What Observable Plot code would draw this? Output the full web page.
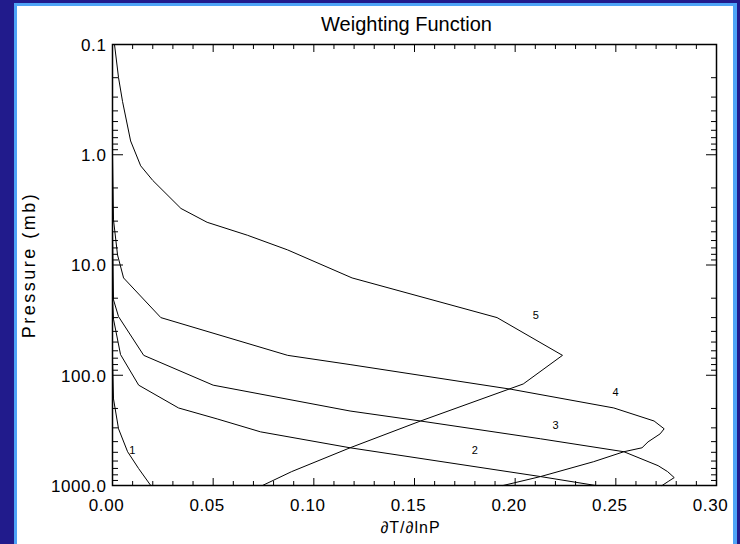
<!DOCTYPE html>
<html>
<head>
<meta charset="utf-8">
<script src="https://cdn.jsdelivr.net/npm/d3@7"></script>
<script src="https://cdn.jsdelivr.net/npm/@observablehq/plot@0.6"></script>
<style>
  html, body { margin: 0; padding: 0; }
  body { width: 740px; height: 544px; overflow: hidden; background: #211b8c; position: relative; }
  #border { position: absolute; left: 14px; top: 3px; width: 723px; height: 560px; background: #4ea4f7; }
  #panel { position: absolute; left: 17px; top: 6px; width: 716px; height: 538px; background: #ffffff; }
</style>
</head>
<body>
<div id="border"></div>
<div id="panel"></div>
<script>
// Weighting function curves (x = dT/dlnP, y = pressure in mb)
const w1V = [0, 0.0005, 0.003, 0.0075, 0.013, 0.019];
const w1P = [72, 164, 306, 494, 703, 1000];

const w2V = [0, 0.0005, 0.004, 0.013, 0.0328, 0.052, 0.0735, 0.118, 0.2126, 0.240];
const w2P = [20, 31, 65, 123, 198, 249, 326, 455, 830, 1000];

const w3V = [0, 0.0005, 0.003, 0.0155, 0.050, 0.118, 0.153, 0.2126, 0.254, 0.271, 0.2757, 0.279, 0.276, 0.273];
const w3P = [4.8, 20.7, 29.4, 66, 123, 211, 260, 377, 494, 661, 748, 848, 920, 1000];

const w4V = [0, 0.0005, 0.0025, 0.0055, 0.024, 0.087, 0.118, 0.198, 0.249, 0.269, 0.274, 0.272, 0.266, 0.263, 0.254, 0.239, 0.2126, 0.194];
const w4P = [1, 3.9, 8.1, 13.1, 30, 66, 80, 134, 198, 260, 306, 340, 402, 455, 494, 608, 830, 1000];

const w5V = [0.001, 0.003, 0.005, 0.009, 0.014, 0.020, 0.034, 0.047, 0.067, 0.087, 0.119, 0.191, 0.2235, 0.204, 0.153, 0.118, 0.089, 0.0745];
const w5P = [0.1, 0.2, 0.33, 0.75, 1.26, 1.71, 3.07, 4.1, 5.37, 7.3, 13.1, 30, 66, 120, 260, 455, 748, 1000];

// Curve labels
const labelText = ["1", "2", "3", "4", "5"];
const labelV = [0.0099, 0.180, 0.2201, 0.2499, 0.2102];
const labelP = [484, 484, 288, 142, 28.8];

// Ticks
const xTicks = [0, 0.05, 0.10, 0.15, 0.20, 0.25, 0.30];
const xTickLabels = ["0.00", "0.05", "0.10", "0.15", "0.20", "0.25", "0.30"];
const yTicks = [0.1, 1, 10, 100, 1000];
const yTickLabels = ["0.1", "1.0", "10.0", "100.0", "1000.0"];

const titleText = "Weighting Function";
const xLabel = "\u2202T/\u2202lnP";
const yLabel = "Pressure (mb)";

// Build tables
const series = [[w1V, w1P], [w2V, w2P], [w3V, w3P], [w4V, w4P], [w5V, w5P]];
const lines = series.flatMap(([V, P], k) => V.map((v, i) => ({curve: labelText[k], v, p: P[i]})));
const labels = labelText.map((t, i) => ({t, v: labelV[i], p: labelP[i]}));

// Minor ticks
const xMinor = d3.range(0, 31).map(i => i / 100).filter(v => !xTicks.some(t => Math.abs(t - v) < 1e-9));
const yMinor = yTicks.slice(0, -1).flatMap(d => d3.range(2, 10).map(k => d * k));

const font = "'Liberation Sans', Arial, sans-serif";
const noText = () => "";

const chart = Plot.plot({
  width: 716,
  height: 538,
  marginLeft: 95,
  marginRight: 17,
  marginTop: 38,
  marginBottom: 59,
  style: {background: "white", color: "black", fontFamily: font, fontSize: "17px"},
  x: {domain: [0, 0.3], label: null},
  y: {type: "log", domain: [0.1, 1000], reverse: true, label: null},
  marks: [
    // major tick labels (outside), no tick lines
    Plot.axisX(xTicks, {anchor: "bottom", tickSize: 0, tickPadding: 13, dx: -6, tickFormat: d => xTickLabels[xTicks.indexOf(d)], label: null, fontSize: 17}),
    Plot.axisY(yTicks, {anchor: "left", tickSize: 0, tickPadding: 6, dy: 1, tickFormat: d => yTickLabels[yTicks.indexOf(d)], label: null, fontSize: 17}),
    // inward tick marks on all four sides
    Plot.axisX(xTicks, {anchor: "bottom", tickSize: -7, tickFormat: noText, label: null}),
    Plot.axisX(xMinor, {anchor: "bottom", tickSize: -4, tickFormat: noText, label: null}),
    Plot.axisX(xTicks, {anchor: "top", tickSize: -7, tickFormat: noText, label: null}),
    Plot.axisX(xMinor, {anchor: "top", tickSize: -4, tickFormat: noText, label: null}),
    Plot.axisY(yTicks, {anchor: "left", tickSize: -11, tickFormat: noText, label: null}),
    Plot.axisY(yMinor, {anchor: "left", tickSize: -6, tickFormat: noText, label: null}),
    Plot.axisY(yTicks, {anchor: "right", tickSize: -11, tickFormat: noText, label: null}),
    Plot.axisY(yMinor, {anchor: "right", tickSize: -6, tickFormat: noText, label: null}),
    Plot.frame({stroke: "black", strokeWidth: 1.5}),
    Plot.line(lines, {x: "v", y: "p", z: "curve", stroke: "black", strokeWidth: 1}),
    Plot.text(labels, {x: "v", y: "p", text: "t", fontSize: 11, fill: "black"}),
    Plot.text([titleText], {frameAnchor: "top", textAnchor: "middle", lineAnchor: "middle", dx: -8, dy: -20, fontSize: 20, fill: "black", fontFamily: font}),
    Plot.text([xLabel], {frameAnchor: "bottom", textAnchor: "middle", lineAnchor: "middle", dx: -4, dy: 42, fontSize: 16, fill: "black", fontFamily: font}),
    Plot.text([yLabel], {frameAnchor: "left", textAnchor: "middle", lineAnchor: "middle", dx: -83, rotate: -90, fontSize: 18, fill: "black", fontFamily: font})
  ]
});
document.getElementById("panel").appendChild(chart);

// letter spacing to mimic the wide IDL vector font
d3.select(chart).selectAll("text").each(function () {
  const t = this.textContent;
  if (t === yLabel) this.setAttribute("letter-spacing", "2.5");
  else if (t === xLabel) this.setAttribute("letter-spacing", "1");
  else if (xTickLabels.includes(t) || yTickLabels.includes(t)) this.setAttribute("letter-spacing", "0.6");
});
</script>
</body>
</html>
